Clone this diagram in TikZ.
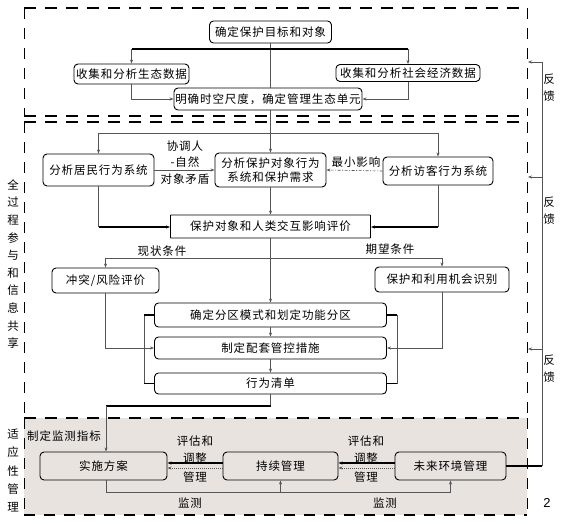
\documentclass[tikz,border=0pt]{standalone}
\usepackage{fontspec}
\setmainfont{Liberation Sans}
\newfontfamily\cjk[LetterSpace=8]{Noto Sans CJK SC}
\usetikzlibrary{arrows.meta}
\definecolor{bgshade}{RGB}{233,227,224}
\definecolor{lnc}{RGB}{85,85,85}
\begin{document}
\begin{tikzpicture}[x=1pt,y=-1pt,
  box/.style={draw=black, line width=0.9pt, rounded corners=4pt, fill=white, inner sep=1pt, font=\cjk\fontsize{11.5}{14}\selectfont, align=center},
  lbl/.style={font=\cjk\fontsize{11.5}{14}\selectfont, inner sep=0pt, align=center},
  conn/.style={draw=lnc, line width=0.6pt},
  arr/.style={-{Stealth[length=4pt,width=3pt]}},
  heavy/.style={draw=black, line width=1.8pt},
  bordv/.style={dash pattern=on 11pt off 9pt, line width=1pt},
  bordh/.style={dash pattern=on 12pt off 9pt, line width=2pt},
]
\useasboundingbox (0,0) rectangle (562,522);
% background of adaptive management region
\fill[bgshade] (24,418) rectangle (527,515);
% dashed frames
\draw[bordh] (24,8) -- (527,8);
\draw[bordh] (24,116) -- (527,116);
\draw[bordv] (24,8) -- (24,116);
\draw[bordv] (527,8) -- (527,116);
\draw[bordh] (24,122) -- (527,122);
\draw[bordh] (24,418) -- (527,418);
\draw[bordv] (24,122) -- (24,418);
\draw[bordv] (527,122) -- (527,418);
\draw[bordv] (24,418) -- (24,515);
\draw[bordv] (527,418) -- (527,515);
\draw[bordv, line width=1.3pt] (24,515) -- (527,515);

% nodes
\node[box, minimum width=122pt, minimum height=22pt] (n1) at (270.5,32) {确定保护目标和对象};
\node[box, minimum width=115pt, minimum height=20pt] (n2) at (131.5,74) {收集和分析生态数据};
\node[box, minimum width=144pt, minimum height=17pt] (n3) at (408,73) {收集和分析社会经济数据};
\node[box, minimum width=188pt, minimum height=22pt] (n4) at (268,99) {明确时空尺度，确定管理生态单元};
\node[box, minimum width=111pt, minimum height=32pt] (n5) at (98.5,170) {分析居民行为系统};
\node[box, minimum width=111pt, minimum height=34pt] (n6) at (270.5,170) {分析保护对象行为\\系统和保护需求};
\node[box, minimum width=110pt, minimum height=28pt] (n7) at (438,171) {分析访客行为系统};
\node[box, rounded corners=0.5pt, minimum width=200pt, minimum height=23pt] (n8) at (270.5,226.5) {保护对象和人类交互影响评价};
\node[box, minimum width=107pt, minimum height=25pt] (n9) at (105.5,280.5) {冲突/风险评价};
\node[box, minimum width=134pt, minimum height=25pt] (n10) at (442,279.5) {保护和利用机会识别};
\node[box, minimum width=232pt, minimum height=24pt] (n11) at (270.5,315) {确定分区模式和划定功能分区};
\node[box, minimum width=232pt, minimum height=22pt] (n12) at (270.5,348) {制定配套管控措施};
\node[box, minimum width=232pt, minimum height=21pt] (n13) at (270.5,383.5) {行为清单};
\node[box, fill=bgshade, minimum width=127pt, minimum height=28pt] (n14) at (103.5,466) {实施方案};
\node[box, fill=bgshade, minimum width=115pt, minimum height=28pt] (n15) at (280.5,466) {持续管理};
\node[box, fill=bgshade, minimum width=111pt, minimum height=28pt] (n16) at (450.5,466) {未来环境管理};

% top section connectors
\coordinate (h1l) at (131.5,49);
\coordinate (h1r) at (408,49);
\draw[conn] (n1.south) -- (n1.south |- n4.north);
\draw[heavy] (h1l) -- (h1r);
\draw[conn, arr] (h1l) -- (n2.north);
\draw[conn, arr] (h1r) -- (n3.north);
\draw[conn, arr] (n2.south) |- (n4.west);
\draw[conn, arr] (n3.south) |- (n4.east);

% middle section
\coordinate (h2l) at (98.5,133);
\coordinate (h2r) at (438,133);
\draw[conn, arr] (n1.south |- n4.south) -- (n6.north);
\draw[conn] (h2l) -- (h2r);
\draw[conn, arr] (h2l) -- (n5.north);
\draw[conn, arr] (h2r) -- (n7.north);
\draw[conn, arr] (n5.east) -- (n6.west);
\draw[conn, arr, dash pattern=on 3pt off 1.5pt on 1pt off 1.5pt] (n7.west) -- (n6.east);
\node[lbl, font=\cjk\fontsize{11.5}{16.5}\selectfont] (lb1) at (185,162.5) {协调人\\-自然\\对象矛盾};
\node[lbl] (lb2) at (356,162) {最小影响};
\draw[conn, arr] (n6.south) -- (n8.north);
\coordinate (c5) at (98.5,227);
\coordinate (c7) at (438,227);
\draw[conn] (n5.south) -- (c5);
\draw[heavy, arr] (c5) -- (c5 -| n8.west);
\draw[conn] (n7.south) -- (c7);
\draw[heavy, arr] (c7) -- (c7 -| n8.east);

% evaluation branches
\coordinate (h3l) at (105.5,258);
\coordinate (h3r) at (442,258);
\draw[conn] (h3l) -- (h3r);
\draw[conn, arr] (h3l) -- (n9.north);
\draw[conn, arr] (h3r) -- (n10.north);
\node[lbl] (lb3) at (162,251) {现状条件};
\node[lbl] (lb4) at (390,249) {期望条件};
\draw[conn, arr] (n8.south) -- (n11.north);
\draw[conn, arr] (n11.south) -- (n12.north);
\draw[conn, arr] (n12.south) -- (n13.north);
\draw[conn, arr] (n9.south) |- (n12.west);
\draw[conn, arr] (n10.south) |- (n12.east);
% brackets
\coordinate (bl1) at (144,315);
\coordinate (bl2) at (144,383.5);
\coordinate (br1) at (397,315);
\coordinate (br2) at (397,383.5);
\draw[conn] (bl1) -- (bl2);
\draw[conn] (br1) -- (br2);
\draw[black, line width=1.5pt] (bl1) -- (bl1 -| n11.west);
\draw[black, line width=1.5pt] (bl2) -- (bl2 -| n13.west);
\draw[black, line width=1.5pt] (br1) -- (br1 -| n11.east);
\draw[black, line width=1.5pt] (br2) -- (br2 -| n13.east);

% down to implementation
\coordinate (d1) at (270.5,406);
\coordinate (d2) at (106,406);
\draw[conn] (n13.south) -- (d1);
\draw[heavy] (d1) -- (d2);
\draw[conn, arr] (d2) -- (d2 |- n14.north);

% adaptive management
\node[lbl, anchor=west] (lb5) at (27,436) {制定监测指标};
\draw[heavy, arr] ([yshift=3pt]n15.west) -- ([yshift=3pt]n14.east);
\draw[conn, arr, dash pattern=on 1pt off 1pt] ([yshift=-2pt]n15.west) -- ([yshift=-2pt]n14.east);
\draw[heavy, arr] ([yshift=3pt]n16.west) -- ([yshift=3pt]n15.east);
\draw[conn, arr, dash pattern=on 1pt off 1pt] ([yshift=-2pt]n16.west) -- ([yshift=-2pt]n15.east);
\node[lbl] (lb6) at (195,441) {评估和};
\node[lbl] (lb7) at (195,458) {调整};
\node[lbl] (lb8) at (195,477) {管理};
\node[lbl] (lb9) at (366,441) {评估和};
\node[lbl] (lb10) at (366,458) {调整};
\node[lbl] (lb11) at (366,477) {管理};
\coordinate (m1) at (106,492);
\draw[conn] (d2 |- n14.south) -- (m1) -- (m1 -| n16.south);
\draw[conn, arr] (m1 -| n15.south) -- (n15.south);
\draw[conn, arr] (m1 -| n16.south) -- (n16.south);
\node[lbl] (lb12) at (190,503) {监测};
\node[lbl] (lb13) at (385,503) {监测};

% feedback
\coordinate (f0) at (542,466);
\coordinate (f1) at (542,62);
\coordinate (f2) at (542,177);
\coordinate (f3) at (542,349);
\draw[heavy] (n16.east) -- (f0);
\draw[conn] (f0) -- (f1);
\draw[conn, arr] (f1) -- (528,62);
\draw[conn, arr] (f2) -- (528,177);
\draw[conn, arr] (f3) -- (528,349);
\node[lbl, font=\cjk\fontsize{11.5}{17}\selectfont] (fb1) at (549,87.5) {反\\馈};
\node[lbl, font=\cjk\fontsize{11.5}{17}\selectfont] (fb2) at (549,210.5) {反\\馈};
\node[lbl, font=\cjk\fontsize{11.5}{17}\selectfont] (fb3) at (549,369) {反\\馈};

% side labels
\node[lbl, font=\cjk\fontsize{11.5}{17.6}\selectfont] (sl1) at (13,264) {全\\过\\程\\参\\与\\和\\信\\息\\共\\享};
\node[lbl, font=\cjk\fontsize{11.5}{18.3}\selectfont] (sl2) at (13,470.5) {适\\应\\性\\管\\理};
\node[font=\fontsize{13}{15}\selectfont, inner sep=0pt] (pg) at (547,503) {2};
\end{tikzpicture}
\end{document}
